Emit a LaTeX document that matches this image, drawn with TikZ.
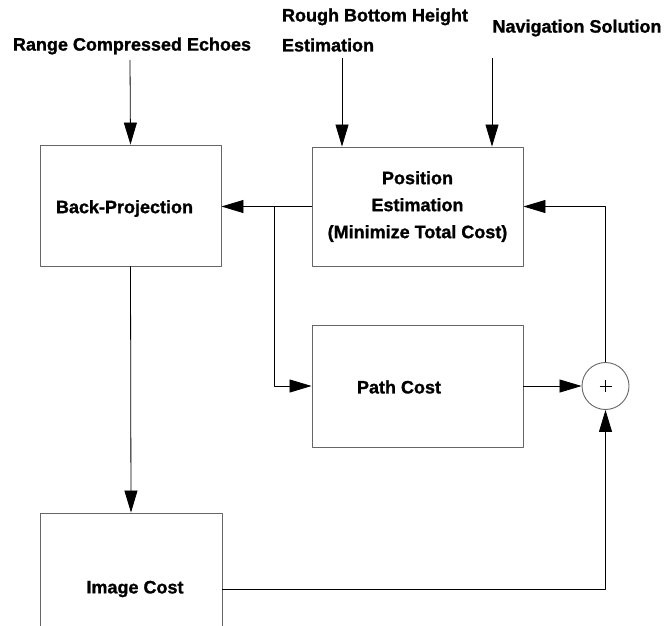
\documentclass[tikz,border=0pt]{standalone}
\usepackage{fontspec}
\setmainfont{Liberation Sans}[BoldFeatures={FakeBold=1.2}]
\usetikzlibrary{arrows.meta}
\tikzset{
  every picture/.style={font=\bfseries\fontsize{18}{30}\selectfont, line join=round, >={Triangle[length=22pt,width=13pt]}},
  blok/.style={draw=black!60, line width=0.9pt, inner sep=0pt, align=center},
  conn/.style={line width=0.8pt},
}

\begin{document}
\begin{tikzpicture}[x=1pt,y=-1pt]
\useasboundingbox (0,0) rectangle (664,625);
\clip (0,0) rectangle (664,625);
% inputs
\node (rce) at (132,46) {Range Compressed Echoes};
\node[anchor=west,align=left] (rbh) at (278.5,30) {Rough Bottom Height\\Estimation};
\node (nav) at (577,28) {Navigation Solution};
\coordinate (rbhout) at (342,58);
\coordinate (navout) at (492,58);
% blocks
\node[blok,minimum width=181,minimum height=121,label={[xshift=-6pt,yshift=-3pt]center:Back-Projection}] (bp) at (130.5,205.5) {};
\node[blok,minimum width=211,minimum height=119,font=\bfseries\fontsize{18}{27}\selectfont] (pe) at (417.5,206.5) {Position\\Estimation\\(Minimize Total Cost)};
\node[blok,minimum width=211,minimum height=122,label={[xshift=-18.5pt,yshift=-1pt]center:Path Cost}] (pc) at (417.5,386) {};
\node[blok,minimum width=182,minimum height=152,label={[xshift=4pt]center:Image Cost}] (ic) at (131,589) {};
\node[draw=black!60,line width=0.9pt,circle,minimum size=47,inner sep=0pt] (sum) at (605.5,386) {};
\draw[conn] (sum.center)+(-6,0)--+(6,0) (sum.center)+(0,-6)--+(0,6);
% connectors
\draw[conn,->] (rce.south)++(-2,2) -- (bp.north);
\draw[conn,->] (rbhout) -- (rbhout |- pe.north);
\draw[conn,->] (navout) -- (navout |- pe.north);
\draw[conn,->] (pe.west) -- (pe.west -| bp.east);
\coordinate (br) at (274,206.5);
\draw[conn,->] (br) |- (pc.west);
\draw[conn,->] (pc.east) -- (sum.west);
\draw[conn,->] (sum.north) |- (pe.east);
\draw[conn,->] (ic.east) -| (sum.south);
\draw[conn,->] (bp.south) -- (ic.north);
\end{tikzpicture}
\end{document}
